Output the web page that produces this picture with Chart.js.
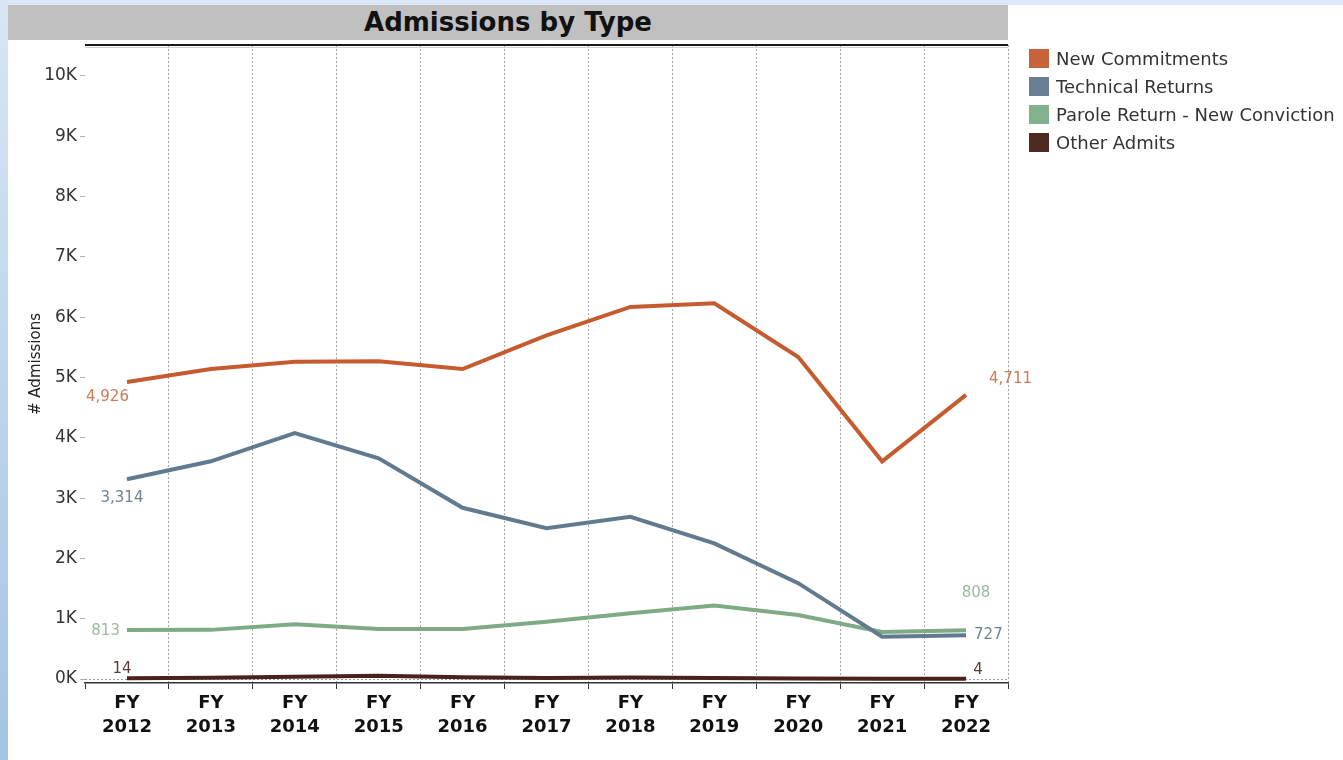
<!DOCTYPE html>
<html>
<head>
<meta charset="utf-8">
<title>Admissions by Type</title>
<script src="https://cdn.jsdelivr.net/npm/chart.js@4.4.1/dist/chart.umd.min.js"></script>
<style>
  html, body { margin: 0; padding: 0; }
  body { width: 1343px; height: 760px; position: relative; overflow: hidden; background: #fff; font-family: "DejaVu Sans", sans-serif; }
  .edge-top { position: absolute; left: 0; top: 0; width: 1343px; height: 5px; background: #dbe8f5; }
  .edge-left { position: absolute; left: 0; top: 0; width: 8px; height: 760px; background: linear-gradient(#d8e6f4, #a4c4e5); }
  .title-bar { position: absolute; left: 8px; top: 5px; width: 1000px; height: 35px; background: #c0c0c0;
               font: bold 26px "DejaVu Sans", sans-serif; line-height: 35px; text-align: center; color: #111; }
  .chart-box { position: absolute; left: 8px; top: 40px; width: 1335px; height: 720px; }
  #legend { position: absolute; left: 1029px; top: 44px; margin: 0; padding: 0; list-style: none; }
  #legend li { height: 28px; display: flex; align-items: center; font-size: 18px; color: #333; white-space: nowrap; }
  #legend .swatch { width: 20px; height: 19px; margin-right: 7px; display: inline-block; }
</style>
</head>
<body>
<div class="edge-top"></div>
<div class="edge-left"></div>
<div class="title-bar">Admissions by Type</div>
<div class="chart-box"><canvas id="admitChart"></canvas></div>
<ul id="legend"></ul>

<script>
const fiscalYears = ['FY 2012', 'FY 2013', 'FY 2014', 'FY 2015', 'FY 2016', 'FY 2017', 'FY 2018', 'FY 2019', 'FY 2020', 'FY 2021', 'FY 2022'];
const seriesNames = ['New Commitments', 'Technical Returns', 'Parole Return - New Conviction', 'Other Admits'];

const newCommitments   = [4926, 5140, 5260, 5270, 5140, 5700, 6170, 6230, 5340, 3610, 4711];
const technicalReturns = [3314, 3610, 4080, 3660, 2840, 2500, 2690, 2250, 1590, 700, 727];
const paroleReturns    = [813, 815, 910, 830, 830, 950, 1090, 1220, 1060, 780, 808];
const otherAdmits      = [14, 22, 38, 55, 28, 18, 24, 16, 10, 6, 4];

const yTicks = [0, 1000, 2000, 3000, 4000, 5000, 6000, 7000, 8000, 9000, 10000];

const lineColors  = ['#c65b2f', '#627a8e', '#7faa86', '#4a221b'];
const swatchColors = ['#c8623a', '#677e93', '#84b08d', '#4f2a22'];
const labelColors = ['#cf7a56', '#6f8397', '#98bb9c', '#5e3b34'];

// where the first / last value labels sit relative to their point
const labelSpots = [
    [{ align: 'right', dx: 2, dy: 15 },   { align: 'left', dx: 23, dy: -16 }],
    [{ align: 'center', dx: -5, dy: 19 }, { align: 'left', dx: 8, dy: 0 }],
    [{ align: 'right', dx: -7, dy: 1 },   { align: 'center', dx: 10, dy: -37 }],
    [{ align: 'center', dx: -5, dy: -9 }, { align: 'center', dx: 12, dy: -9 }]
];

const seriesData = [newCommitments, technicalReturns, paroleReturns, otherAdmits];

// value labels at both ends of each line
const endLabels = {
    id: 'endLabels',
    afterDatasetsDraw(chart) {
        const ctx = chart.ctx;
        ctx.save();
        ctx.font = '15px "DejaVu Sans", sans-serif';
        ctx.textBaseline = 'middle';
        chart.data.datasets.forEach((ds, i) => {
            const pts = chart.getDatasetMeta(i).data;
            [0, pts.length - 1].forEach((idx, k) => {
                const s = labelSpots[i][k];
                ctx.fillStyle = labelColors[i];
                ctx.textAlign = s.align;
                ctx.fillText(ds.data[idx].toLocaleString('en-US'), pts[idx].x + s.dx, pts[idx].y + s.dy);
            });
        });
        ctx.restore();
    }
};

// heavy rule along the top of the plot
const topRule = {
    id: 'topRule',
    afterDraw(chart) {
        const { ctx, chartArea } = chart;
        ctx.save();
        ctx.strokeStyle = '#1a1a1a';
        ctx.lineWidth = 2;
        ctx.beginPath();
        ctx.moveTo(chartArea.left, chartArea.top);
        ctx.lineTo(chartArea.right, chartArea.top);
        ctx.stroke();
        ctx.strokeStyle = '#d0d0d0';
        ctx.lineWidth = 1;
        ctx.beginPath();
        ctx.moveTo(chartArea.left, chartArea.top + 2.5);
        ctx.lineTo(chartArea.right, chartArea.top + 2.5);
        ctx.stroke();
        ctx.restore();
    }
};

const data = {
    labels: fiscalYears,
    datasets: seriesNames.map((name, i) => ({
        label: name,
        data: seriesData[i],
        borderColor: lineColors[i],
        backgroundColor: lineColors[i],
        borderWidth: 4,
        pointRadius: 0,
        tension: 0
    }))
};

const config = {
    type: 'line',
    data: data,
    options: {
        responsive: true,
        maintainAspectRatio: false,
        animation: false,
        layout: { padding: { top: 5, right: 335, left: 0, bottom: 0 } },
        plugins: {
            legend: { display: false },
            tooltip: { enabled: false }
        },
        scales: {
            x: {
                offset: true,
                afterFit: scale => { scale.height = 77; },
                grid: {
                    offset: true,
                    color: c => (c.index === 0 || c.index === fiscalYears.length) ? 'transparent' : '#a8a8a8',
                    lineWidth: 1,
                    tickColor: '#333',
                    tickLength: 6,
                    tickBorderDash: []
                },
                border: { display: true, color: '#333', width: 1.5, dash: [2, 2] },
                ticks: {
                    padding: 2,
                    color: '#111',
                    font: { family: '"DejaVu Sans", sans-serif', size: 18, weight: 'bold', lineHeight: 1.33 },
                    maxRotation: 0,
                    callback: function (v) { return this.getLabelForValue(v).split(' '); }
                }
            },
            y: {
                min: -66,
                max: 10514,
                afterFit: scale => {
                    scale.width = 77;
                    scale.paddingTop = 0;
                    scale.paddingBottom = 0;
                },
                afterBuildTicks: scale => { scale.ticks = yTicks.map(v => ({ value: v })); },
                grid: {
                    color: c => (c.tick && c.tick.value === 0) ? '#9a9a9a' : 'transparent',
                    tickColor: '#b0b0b0',
                    tickLength: 5,
                    tickBorderDash: []
                },
                border: { display: false, dash: [2, 2] },
                ticks: {
                    padding: 3,
                    color: '#333',
                    font: { family: '"DejaVu Sans", sans-serif', size: 17 },
                    callback: v => (v / 1000) + 'K'
                },
                title: {
                    display: true,
                    text: '# Admissions',
                    color: '#222',
                    font: { family: '"DejaVu Sans", sans-serif', size: 15 },
                    padding: { top: 19, bottom: 0 }
                }
            }
        }
    },
    plugins: [endLabels, topRule]
};

new Chart(document.getElementById('admitChart'), config);

const legendList = document.getElementById('legend');
seriesNames.forEach((name, i) => {
    const li = document.createElement('li');
    li.innerHTML = `<span class="swatch" style="background:${swatchColors[i]}"></span><span>${name}</span>`;
    legendList.appendChild(li);
});
</script>
</body>
</html>
